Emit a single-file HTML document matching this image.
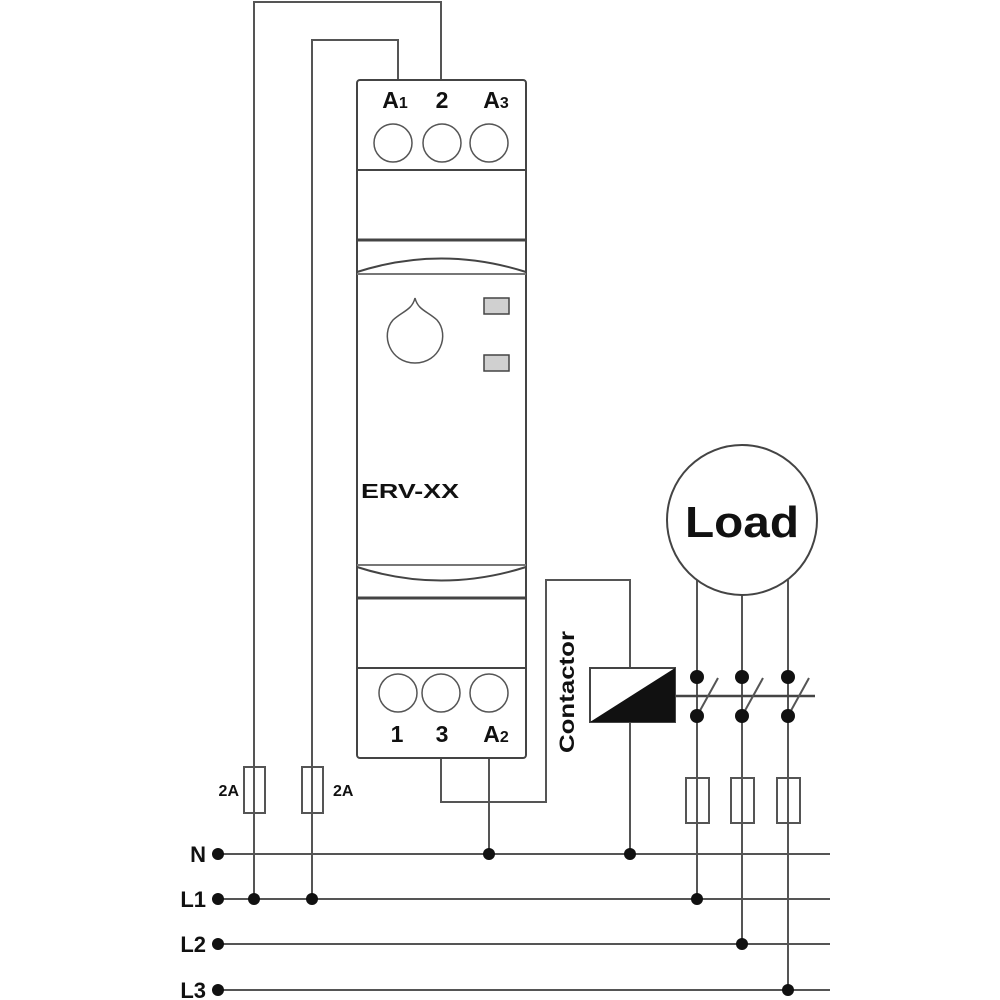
<!DOCTYPE html>
<html><head><style>
body{margin:0;background:#fff;}
svg{display:block;font-family:"Liberation Sans",Arial,sans-serif;font-weight:bold;}
</style></head><body>
<svg width="1000" height="1000" viewBox="0 0 1000 1000" xmlns="http://www.w3.org/2000/svg">
<g fill="none" stroke="#555" stroke-width="2">
<polyline points="254,767 254,2 441,2 441,80"/>
<polyline points="312,767 312,40 398,40 398,80"/>
<line x1="254" y1="813" x2="254" y2="899"/>
<line x1="312" y1="813" x2="312" y2="899"/>
<rect x="244" y="767" width="21" height="46"/>
<rect x="302" y="767" width="21" height="46"/>
<polyline points="441,758 441,802 546,802 546,580 630,580 630,668"/>
<line x1="489" y1="758" x2="489" y2="854"/>
<line x1="630" y1="722" x2="630" y2="854"/>
<line x1="218" y1="854" x2="830" y2="854"/>
<line x1="218" y1="899" x2="830" y2="899"/>
<line x1="218" y1="944" x2="830" y2="944"/>
<line x1="218" y1="990" x2="830" y2="990"/>
<line x1="697" y1="580" x2="697" y2="899"/>
<line x1="742" y1="595" x2="742" y2="944"/>
<line x1="788" y1="580" x2="788" y2="990"/>
<line x1="675" y1="696" x2="815" y2="696" stroke="#444" stroke-width="2.5"/>
<line x1="697" y1="716" x2="718" y2="678"/>
<line x1="742" y1="716" x2="763" y2="678"/>
<line x1="788" y1="716" x2="809" y2="678"/>
</g>
<g fill="#fff" stroke="#555" stroke-width="2">
<rect x="686" y="778" width="23" height="45"/>
<rect x="731" y="778" width="23" height="45"/>
<rect x="777" y="778" width="23" height="45"/>
</g>
<g stroke="#555" stroke-width="2">
<line x1="697" y1="778" x2="697" y2="823"/>
<line x1="742" y1="778" x2="742" y2="823"/>
<line x1="788" y1="778" x2="788" y2="823"/>
<line x1="254" y1="767" x2="254" y2="813"/>
<line x1="312" y1="767" x2="312" y2="813"/>
</g>
<circle cx="742" cy="520" r="75" fill="#fff" stroke="#444" stroke-width="2"/>
<text x="742" y="537" font-size="44" text-anchor="middle" fill="#111" textLength="114" lengthAdjust="spacingAndGlyphs">Load</text>
<rect x="590" y="668" width="85" height="54" fill="#fff" stroke="#444" stroke-width="2"/>
<polygon points="590,722 675,668 675,722" fill="#111"/>
<text transform="translate(574,692) rotate(-90)" font-size="21" text-anchor="middle" fill="#111" textLength="122" lengthAdjust="spacingAndGlyphs">Contactor</text>
<g fill="#111">
<circle cx="218" cy="854" r="6"/><circle cx="218" cy="899" r="6"/><circle cx="218" cy="944" r="6"/><circle cx="218" cy="990" r="6"/>
<circle cx="254" cy="899" r="6"/><circle cx="312" cy="899" r="6"/><circle cx="697" cy="899" r="6"/>
<circle cx="489" cy="854" r="6"/><circle cx="630" cy="854" r="6"/>
<circle cx="742" cy="944" r="6"/><circle cx="788" cy="990" r="6"/>
<circle cx="697" cy="677" r="7"/><circle cx="742" cy="677" r="7"/><circle cx="788" cy="677" r="7"/>
<circle cx="697" cy="716" r="7"/><circle cx="742" cy="716" r="7"/><circle cx="788" cy="716" r="7"/>
</g>
<g font-size="22" fill="#111" text-anchor="end">
<text x="206" y="862">N</text><text x="206" y="907">L1</text><text x="206" y="952">L2</text><text x="206" y="998">L3</text>
</g>
<text x="239" y="796" font-size="16" fill="#111" text-anchor="end">2A</text>
<text x="333" y="796" font-size="16" fill="#111">2A</text>
<g stroke="#444" stroke-width="2" fill="#fff">
<rect x="357" y="80" width="169" height="678" rx="3"/>
<line x1="357" y1="170" x2="526" y2="170"/>
<line x1="357" y1="240" x2="526" y2="240" stroke-width="3"/>
<path d="M357,272 Q441,245 526,272" fill="none"/>
<line x1="357" y1="274" x2="526" y2="274" stroke="#777"/>
<line x1="357" y1="565" x2="526" y2="565" stroke="#777"/>
<path d="M357,567 Q441,594 526,567" fill="none"/>
<line x1="357" y1="598" x2="526" y2="598" stroke-width="3"/>
<line x1="357" y1="668" x2="526" y2="668"/>
</g>
<g fill="#fff" stroke="#555" stroke-width="1.5">
<circle cx="393" cy="143" r="19"/><circle cx="442" cy="143" r="19"/><circle cx="489" cy="143" r="19"/>
<circle cx="398" cy="693" r="19"/><circle cx="441" cy="693" r="19"/><circle cx="489" cy="693" r="19"/>
<path d="M415,298 C412,310 403,311 393,320 C380,335 390,363 415,363 C440,363 450,335 437,320 C427,311 418,310 415,298 Z"/>
</g>
<rect x="484" y="298" width="25" height="16" fill="#d0d0d0" stroke="#444" stroke-width="1.5"/>
<rect x="484" y="355" width="25" height="16" fill="#d0d0d0" stroke="#444" stroke-width="1.5"/>
<g font-size="23" fill="#111" text-anchor="middle">
<text x="395" y="108">A<tspan font-size="16">1</tspan></text>
<text x="442" y="108">2</text>
<text x="496" y="108">A<tspan font-size="16">3</tspan></text>
<text x="397" y="742">1</text>
<text x="442" y="742">3</text>
<text x="496" y="742">A<tspan font-size="16">2</tspan></text>
</g>
<text x="361" y="498" font-size="20" fill="#111" textLength="98" lengthAdjust="spacingAndGlyphs">ERV-XX</text>
</svg>
</body></html>
